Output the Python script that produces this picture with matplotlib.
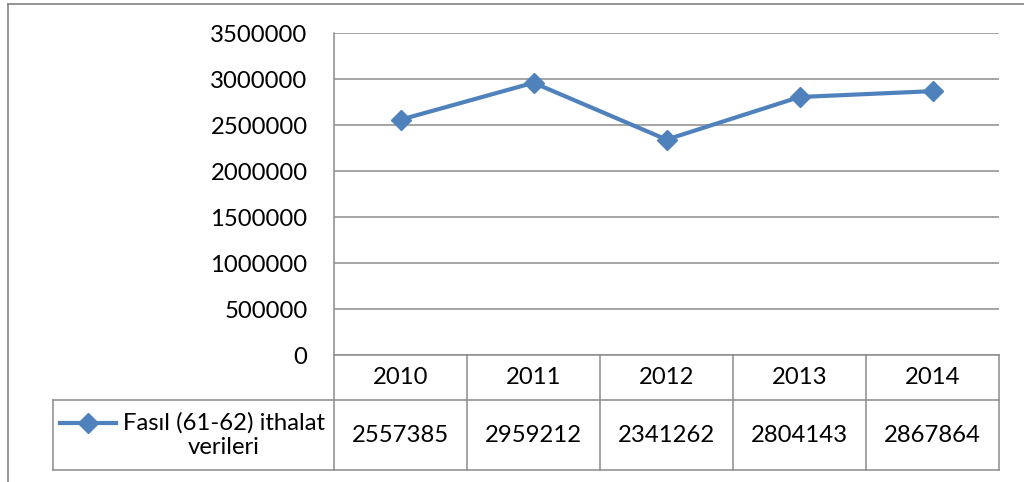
import matplotlib
matplotlib.use("Agg")
import matplotlib.pyplot as plt
from matplotlib.lines import Line2D

years = ["2010", "2011", "2012", "2013", "2014"]
values = [2557385, 2959212, 2341262, 2804143, 2867864]
series_name = "Fasıl (61-62) ithalat\nverileri"
yticks = [0, 500000, 1000000, 1500000, 2000000, 2500000, 3000000, 3500000]

blue = "#4F81BD"
grid = "#8C8C8C"
plt.rcParams['font.family'] = ['Lato', 'DejaVu Sans']
fs = 17.2

W, H = 1024, 482
fig = plt.figure(figsize=(W / 100, H / 100), dpi=100)

def fx(px):
    return px / W

def fy(py):
    return 1 - py / H

left, right, top, zero, tbot, rowline, legl = 334, 999, 33, 355, 470, 400, 53

# outer chart border (cut off at right and bottom)
fig.add_artist(Line2D([fx(8), fx(8)], [fy(4), 0], color=grid, lw=1.3))
fig.add_artist(Line2D([fx(8), 1], [fy(4), fy(4)], color=grid, lw=1.3))

ax = fig.add_axes([fx(left), fy(zero), fx(right - left), fy(top) - fy(zero)])
x = list(range(len(years)))
ax.plot(x, values, color=blue, lw=3, marker='D', markersize=10,
        markeredgecolor=blue, zorder=3, clip_on=False)
ax.set_xlim(-0.5, len(years) - 0.5)
ax.set_ylim(0, 3500000)
ax.set_yticks(yticks)
ax.set_yticklabels([str(v) for v in yticks], fontsize=fs)
ax.tick_params(axis='y', length=0, pad=19)
ax.set_xticks([])
ax.yaxis.grid(True, color=grid, lw=1.1)
ax.set_axisbelow(True)
for s in ['top', 'right', 'bottom']:
    ax.spines[s].set_visible(False)
ax.spines['left'].set_color(grid)
ax.spines['left'].set_linewidth(1.1)

# data table below the plot area
tab = fig.add_axes([fx(left), fy(tbot), fx(right - left), fy(zero) - fy(tbot)])
tab.set_xlim(-0.5, len(years) - 0.5)
tab.set_ylim(0, 1)
tab.axis('off')
rl = (tbot - rowline) / (tbot - zero)
xl = -0.5 + (legl - left) * len(years) / (right - left)
kw = dict(color=grid, lw=1.1, clip_on=False)
tab.plot([-0.5, len(years) - 0.5], [1, 1], **kw)
tab.plot([xl, len(years) - 0.5], [rl, rl], **kw)
tab.plot([xl, len(years) - 0.5], [0, 0], **kw)
tab.plot([xl, xl], [0, rl], **kw)
for i in range(len(years) + 1):
    tab.plot([i - 0.5, i - 0.5], [0, 1], **kw)
for i, (yr, v) in enumerate(zip(years, values)):
    tab.text(i, (1 + rl) / 2, yr, ha='center', va='center', fontsize=fs)
    tab.text(i, rl / 2, str(v), ha='center', va='center', fontsize=fs)

# legend key inside the table
lx0 = -0.5 + (60 - left) * len(years) / (right - left)
lx1 = -0.5 + (116 - left) * len(years) / (right - left)
ly = (tbot - 423) / (tbot - zero)
tab.plot([lx0, lx1], [ly, ly], color=blue, lw=3, clip_on=False)
tab.plot([(lx0 + lx1) / 2], [ly], marker='D', markersize=10, color=blue, clip_on=False)
tx = -0.5 + (224 - left) * len(years) / (right - left)
tab.text(tx, rl / 2, series_name, ha='center', va='center', fontsize=fs,
         linespacing=1.25)

fig.savefig("out.png", dpi=100)
